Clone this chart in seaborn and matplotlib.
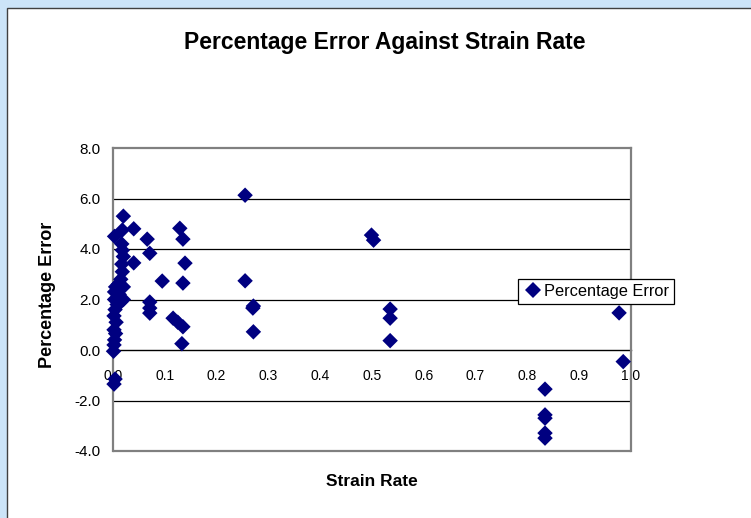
import matplotlib
matplotlib.use('Agg')
import matplotlib.pyplot as plt
import seaborn as sns
import pandas as pd
from matplotlib.patches import Rectangle

# ---- data ----
strain_rate = [
    0.003, 0.020, 0.018, 0.040, 0.017, 0.018, 0.020, 0.040, 0.017, 0.018,
    0.015, 0.010, 0.005, 0.020, 0.003, 0.012, 0.020, 0.003, 0.008, 0.015,
    0.004, 0.002, 0.006, 0.002, 0.005, 0.003, 0.002, 0.001, 0.004, 0.002,
    0.066, 0.071, 0.095, 0.071, 0.071, 0.071, 0.116, 0.125, 0.135, 0.129,
    0.135, 0.139, 0.135, 0.133,
    0.255, 0.255, 0.271, 0.270, 0.271,
    0.499, 0.503, 0.535, 0.535, 0.535,
    0.834, 0.834, 0.834, 0.834, 0.834,
    0.977, 0.985,
]
percentage_error = [
    4.50, 5.30, 4.75, 4.80, 4.20, 3.95, 3.70, 3.45, 3.40, 3.10,
    2.80, 2.60, 2.50, 2.50, 2.30, 2.20, 2.00, 2.00, 1.80, 1.90,
    1.60, 1.35, 1.10, 0.80, 0.65, 0.40, 0.20, -0.05, -1.15, -1.35,
    4.39, 3.83, 2.73, 1.90, 1.66, 1.46, 1.26, 1.10, 0.92, 4.82,
    4.39, 3.44, 2.65, 0.25,
    6.13, 2.74, 1.74, 1.66, 0.72,
    4.55, 4.35, 1.62, 1.26, 0.37,
    -1.55, -2.57, -2.70, -3.29, -3.49,
    1.47, -0.46,
]
series_name = "Percentage Error"
x_ticks = [0.0, 0.1, 0.2, 0.3, 0.4, 0.5, 0.6, 0.7, 0.8, 0.9, 1.0]
y_ticks = [-4.0, -2.0, 0.0, 2.0, 4.0, 6.0, 8.0]

sns.set_style("white")
plt.rcParams['font.family'] = ['Liberation Sans', 'DejaVu Sans']
plt.rcParams['text.color'] = '#000000'

W, H = 751, 518
fig = plt.figure(figsize=(W / 100, H / 100), dpi=100, facecolor='#CCE4F8')
fig.patches.append(Rectangle((7 / W, -0.05), 1.05, 1 - 8 / H + 0.05,
                             transform=fig.transFigure, facecolor='white',
                             edgecolor='#404040', lw=1.0, zorder=-5))

ax = fig.add_axes([113 / W, 1 - 451 / H, 518 / W, 303 / H])
ax.set_zorder(2)
ax.set_facecolor('white')

df = pd.DataFrame({'Strain Rate': strain_rate,
                   'Percentage Error': percentage_error,
                   'series': series_name})
sns.scatterplot(data=df, x='Strain Rate', y='Percentage Error', hue='series',
                palette=['#000080'], marker='D', s=62, linewidth=0,
                ax=ax, zorder=4, clip_on=False)

ax.set_xlim(0, 1)
ax.set_ylim(-4, 8)
ax.set_xticks(x_ticks)
ax.set_yticks(y_ticks)
ax.set_xticklabels([f"{v:.1f}" for v in x_ticks], fontsize=11)
ax.set_yticklabels([f"{v:.1f}" for v in y_ticks], fontsize=11)

# gridlines
for v in y_ticks:
    if v not in (0.0, 8.0, -4.0):
        ax.axhline(v, color='#000000', lw=0.9, zorder=1)
ax.axhline(-4.0, color='#808080', lw=1.6, zorder=2, clip_on=False)

for side in ('top', 'left', 'right'):
    ax.spines[side].set_color('#808080')
    ax.spines[side].set_linewidth(1.6)
ax.spines['bottom'].set_position(('data', 0))
ax.spines['bottom'].set_color('#000000')
ax.spines['bottom'].set_linewidth(1.0)
ax.spines['bottom'].set_zorder(2)

ax.tick_params(axis='x', direction='out', length=4, width=1, color='#000000',
               pad=10, labelcolor='#000000')
ax.tick_params(axis='y', direction='out', length=4, width=1, color='#808080',
               pad=5, labelcolor='#000000')

ax.set_xlabel('')
ax.set_ylabel('')
fig.text(372 / W, 1 - 481 / H, 'Strain Rate', ha='center', va='center',
         fontsize=12.5, fontweight='bold', color='#000000')
fig.text(48 / W, 1 - 295 / H, 'Percentage Error', ha='center', va='center',
         rotation=90, fontsize=13, fontweight='bold', color='#000000')
fig.text(385 / W, 1 - 42 / H, 'Percentage Error Against Strain Rate',
         ha='center', va='center', fontsize=16.5, fontweight='bold', color='#000000')

leg = ax.legend(loc='center left', bbox_to_anchor=(518 / W, 1 - 291.5 / H),
                bbox_transform=fig.transFigure, frameon=True, fancybox=False,
                edgecolor='#000000', framealpha=1, fontsize=11.8,
                handletextpad=0.1, borderpad=0.3, handlelength=1.2,
                borderaxespad=0)
leg.get_frame().set_linewidth(0.9)
for t in leg.get_texts():
    t.set_color('#000000')

fig.savefig('out.png', dpi=100, facecolor=fig.get_facecolor())
